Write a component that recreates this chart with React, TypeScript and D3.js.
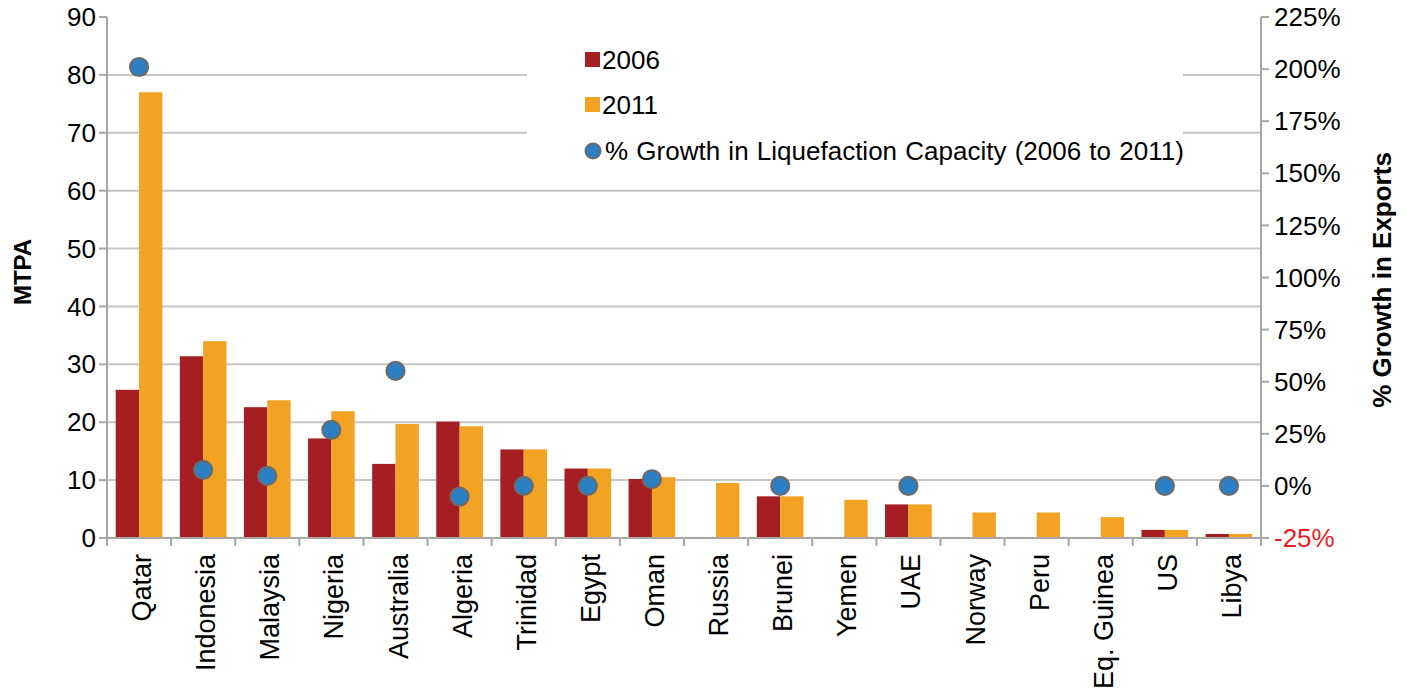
import React from "react";
import * as d3 from "d3";

const categories = ["Qatar","Indonesia","Malaysia","Nigeria","Australia","Algeria","Trinidad","Egypt","Oman","Russia","Brunei","Yemen","UAE","Norway","Peru","Eq. Guinea","US","Libya"];
const values2006 = [25.6,31.4,22.6,17.2,12.8,20.1,15.3,12.0,10.2,0,7.2,0,5.8,0,0,0,1.4,0.7];
const values2011 = [77.0,34.0,23.8,21.9,19.7,19.3,15.3,12.0,10.5,9.5,7.2,6.6,5.8,4.4,4.4,3.6,1.4,0.7];
const growth: (number | null)[] = [201,7.7,4.8,26.9,55.2,-5.1,0,0,3.2,null,0,null,0,null,null,null,0,0];
const leftTicks = [0,10,20,30,40,50,60,70,80,90];
const rightTicks = [-25,0,25,50,75,100,125,150,175,200,225];
const seriesNames = ["2006","2011","% Growth in Liquefaction Capacity (2006 to 2011)"];

const W = 1407, H = 696;
const M = { left: 107, right: 1261, top: 17, bottom: 538 };
const C2006 = "#a51e22";
const C2011 = "#f2a323";
const CDOT = "#2b7fc4";
const FONT = "'Liberation Sans', Arial, sans-serif";

export default function App() {
  const x = d3.scaleBand<string>().domain(categories).range([M.left, M.right]).padding(0);
  const step = x.step();
  const bw = step * 0.364;
  const yL = d3.scaleLinear().domain([0, 90]).range([M.bottom, M.top]);
  const yR = d3.scaleLinear().domain([-25, 225]).range([M.bottom, M.top]);
  const boundaries = d3.range(categories.length + 1).map(i => M.left + i * step);
  const axisColor = "#a6a6a6";
  const gridColor = "#c6c6c6";

  return (
    <svg width={W} height={H} style={{ position: "absolute", left: 0, top: 0, background: "#fff" }} fontFamily={FONT}>
      {leftTicks.filter(t => t > 0 && t < 90).map(t => (
        <line key={"g" + t} x1={M.left} x2={M.right} y1={yL(t)} y2={yL(t)} stroke={gridColor} strokeWidth={2} />
      ))}
      <rect x={527} y={40} width={656} height={133} fill="#fff" />
      {categories.map((c, i) => {
        const cx = (x(c) as number) + step / 2;
        return (
          <g key={c}>
            {values2006[i] > 0 && (
              <rect x={cx - bw} y={yL(values2006[i])} width={bw} height={yL(0) - yL(values2006[i])} fill={C2006} />
            )}
            {values2011[i] > 0 && (
              <rect x={cx} y={yL(values2011[i])} width={bw} height={yL(0) - yL(values2011[i])} fill={C2011} />
            )}
          </g>
        );
      })}
      <line x1={M.left} x2={M.left} y1={M.top} y2={M.bottom + 8} stroke={axisColor} strokeWidth={2} />
      <line x1={M.right} x2={M.right} y1={M.top} y2={M.bottom + 8} stroke={axisColor} strokeWidth={2} />
      <line x1={M.left - 8} x2={M.right + 8} y1={M.bottom} y2={M.bottom} stroke={axisColor} strokeWidth={2} />
      {boundaries.map((b, i) => (
        <line key={"xt" + i} x1={b} x2={b} y1={M.bottom} y2={M.bottom + 8} stroke={axisColor} strokeWidth={2} />
      ))}
      {leftTicks.map(t => (
        <g key={"lt" + t}>
          <line x1={M.left - 8} x2={M.left} y1={yL(t)} y2={yL(t)} stroke={axisColor} strokeWidth={2} />
          <text x={M.left - 11} y={yL(t)} dy="0.35em" textAnchor="end" fontSize={26} fill="#000">{t}</text>
        </g>
      ))}
      {rightTicks.map(t => (
        <g key={"rt" + t}>
          <line x1={M.right} x2={M.right + 8} y1={yR(t)} y2={yR(t)} stroke={axisColor} strokeWidth={2} />
          <text x={M.right + 13} y={yR(t)} dy="0.35em" textAnchor="start" fontSize={26} fill={t < 0 ? "#ee1c25" : "#000"}>{t + "%"}</text>
        </g>
      ))}
      {categories.map(c => {
        const cx = (x(c) as number) + step / 2;
        return (
          <text key={"xl" + c} transform={`translate(${cx + 12},${M.bottom + 16}) rotate(-90)`} textAnchor="end" fontSize={27} fill="#000">{c}</text>
        );
      })}
      {categories.map((c, i) => {
        const g = growth[i];
        if (g === null) return null;
        const cx = (x(c) as number) + step / 2;
        return <circle key={"d" + c} cx={cx} cy={yR(g)} r={9} fill={CDOT} stroke="#6b6b6b" strokeWidth={2.2} />;
      })}
      <text transform={`translate(31,272) rotate(-90)`} textAnchor="middle" fontSize={24} fontWeight="bold">MTPA</text>
      <text transform={`translate(1391,280) rotate(-90)`} textAnchor="middle" fontSize={26} fontWeight="bold">% Growth in Exports</text>
      <rect x={585} y={52} width={15} height={15} fill={C2006} />
      <text x={602} y={69} fontSize={26}>{seriesNames[0]}</text>
      <rect x={585} y={97} width={15} height={15} fill={C2011} />
      <text x={602} y={114} fontSize={26}>{seriesNames[1]}</text>
      <circle cx={593} cy={151} r={7.5} fill={CDOT} stroke="#6b6b6b" strokeWidth={2} />
      <text x={605} y={160} fontSize={26} wordSpacing={1}>{seriesNames[2]}</text>
    </svg>
  );
}
